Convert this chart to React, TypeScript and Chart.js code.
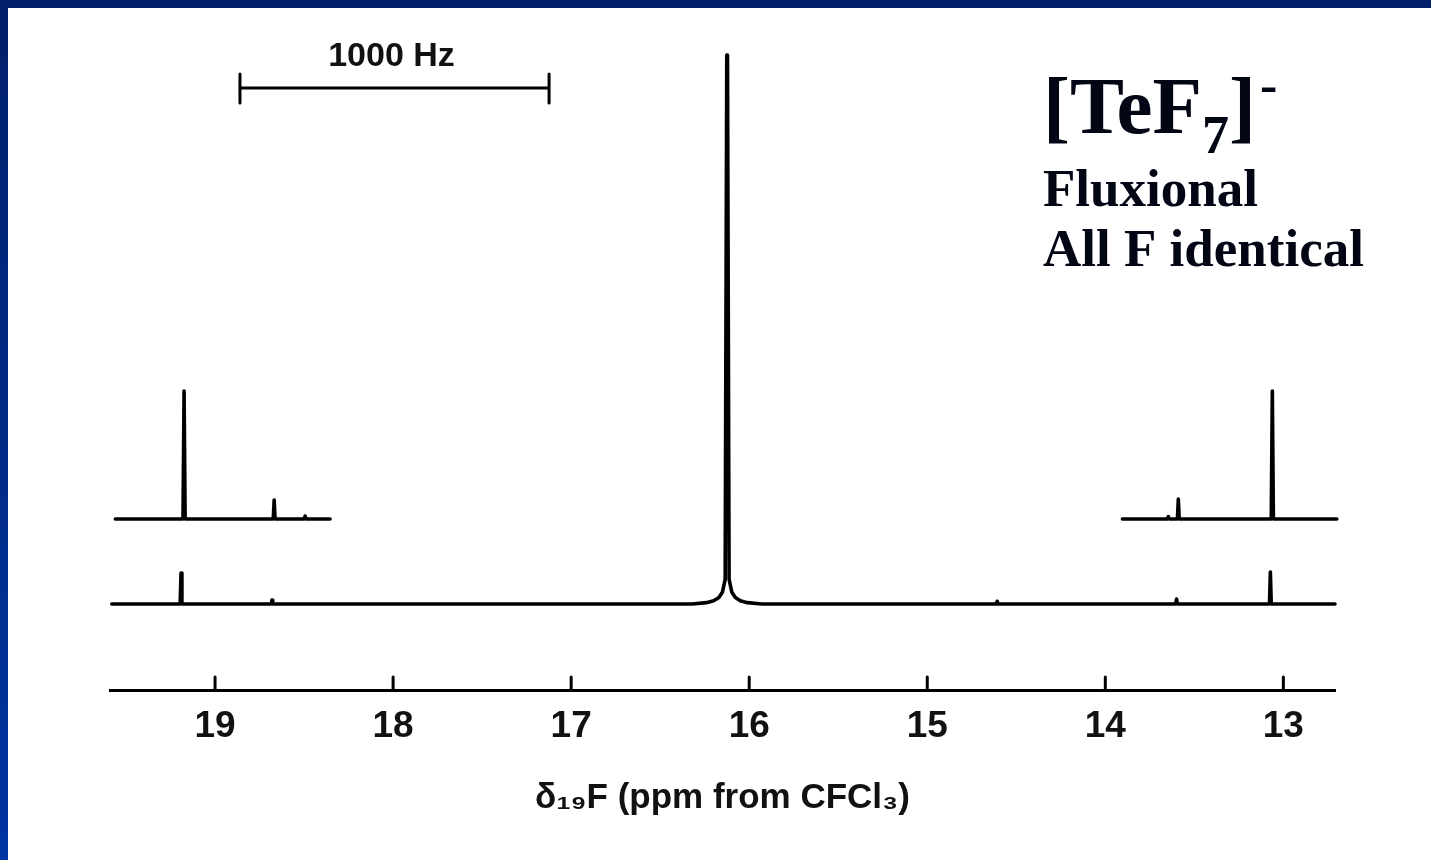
import { useEffect, useRef } from "react";
import { Chart, registerables } from "chart.js";

Chart.register(...registerables);

// ---- axis (ppm, reversed) ----
const X_MIN_PPM = 12.71;
const X_MAX_PPM = 19.59;
const TICK_PPM = [19, 18, 17, 16, 15, 14, 13];
const AXIS_TITLE = "δ₁₉F (ppm from CFCl₃)";

// ---- main trace (intensity: main line = 100) ----
const mainPpm = [
  19.58, 19.196, 19.191, 19.186, 18.684, 18.68, 18.676, 16.32, 16.24, 16.2, 16.17, 16.15, 16.135,
  16.126, 16.122, 16.113, 16.098, 16.078, 16.05, 16.01, 15.93, 14.612, 14.607, 14.602, 13.605, 13.6, 13.595,
  13.078, 13.073, 13.068, 12.71,
];
const mainInt = [
  0, 0, 5.65, 0, 0, 0.7, 0, 0, 0.25, 0.6, 1.2, 2.2, 4.5,
  100, 100, 4.5, 2.2, 1.2, 0.6, 0.25, 0, 0, 0.5, 0, 0, 0.9, 0,
  0, 5.83, 0, 0,
];

// ---- expanded insets (same intensity units, own vertical scale) ----
const leftInsetPpm = [19.56, 19.18, 19.174, 19.168, 18.673, 18.668, 18.663, 18.5, 18.494, 18.488, 18.354];
const leftInsetInt = [0, 0, 5.65, 0, 0, 0.84, 0, 0, 0.13, 0, 0];
const rightInsetPpm = [13.904, 13.652, 13.646, 13.64, 13.595, 13.59, 13.585, 13.068, 13.062, 13.056, 12.7];
const rightInsetInt = [0, 0, 0.1, 0, 0, 0.88, 0, 0, 5.65, 0, 0];

// ---- scale bar ----
const SCALE_BAR_FROM_PPM = 18.86;
const SCALE_BAR_TO_PPM = 17.124;
const SCALE_BAR_LEVEL = 94;
const SCALE_BAR_LABEL = "1000 Hz";

// ---- annotation ----
const FORMULA_PARTS = ["[TeF", "7", "]", "-"];
const NOTE_LINES = ["Fluxional", "All F identical"];

const toPoints = (xs: number[], ys: number[]) => xs.map((x, i) => ({ x, y: ys[i] }));

const SANS = "'Liberation Sans', Arial, sans-serif";
const SERIF = "'Liberation Serif', 'Times New Roman', serif";

const upTicksPlugin = {
  id: "upTicks",
  afterDraw(chart: any) {
    const xs = chart.scales.x;
    const ctx = chart.ctx;
    ctx.save();
    ctx.strokeStyle = "#000";
    ctx.lineWidth = 3;
    ctx.lineCap = "round";
    for (const v of TICK_PPM) {
      const px = xs.getPixelForValue(v);
      ctx.beginPath();
      ctx.moveTo(px, xs.top);
      ctx.lineTo(px, xs.top - 13);
      ctx.stroke();
    }
    ctx.restore();
  },
};

const scaleBarPlugin = {
  id: "scaleBar",
  afterDraw(chart: any) {
    const xs = chart.scales.x;
    const ys = chart.scales.y;
    const ctx = chart.ctx;
    const x1 = xs.getPixelForValue(SCALE_BAR_FROM_PPM);
    const x2 = xs.getPixelForValue(SCALE_BAR_TO_PPM);
    const y = ys.getPixelForValue(SCALE_BAR_LEVEL);
    ctx.save();
    ctx.strokeStyle = "#000";
    ctx.lineWidth = 3;
    ctx.lineCap = "round";
    ctx.beginPath();
    ctx.moveTo(x1, y);
    ctx.lineTo(x2, y);
    ctx.moveTo(x1, y - 14);
    ctx.lineTo(x1, y + 15);
    ctx.moveTo(x2, y - 14);
    ctx.lineTo(x2, y + 15);
    ctx.stroke();
    ctx.fillStyle = "#111";
    ctx.font = `bold 34px ${SANS}`;
    ctx.textAlign = "center";
    ctx.textBaseline = "alphabetic";
    ctx.fillText(SCALE_BAR_LABEL, (x1 + x2) / 2 - 3, y - 22);
    ctx.restore();
  },
};

const annotationPlugin = {
  id: "annotation",
  afterDraw(chart: any) {
    const ctx = chart.ctx;
    ctx.save();
    ctx.fillStyle = "#020614";
    ctx.textAlign = "left";
    ctx.textBaseline = "alphabetic";
    let x = 1035;
    ctx.font = `bold 81px ${SERIF}`;
    ctx.fillText(FORMULA_PARTS[0], x, 125);
    x += ctx.measureText(FORMULA_PARTS[0]).width;
    ctx.font = `bold 54px ${SERIF}`;
    ctx.fillText(FORMULA_PARTS[1], x, 145);
    x += ctx.measureText(FORMULA_PARTS[1]).width;
    ctx.font = `bold 81px ${SERIF}`;
    ctx.fillText(FORMULA_PARTS[2], x, 125);
    x += ctx.measureText(FORMULA_PARTS[2]).width;
    ctx.font = `bold 52px ${SERIF}`;
    ctx.fillText(FORMULA_PARTS[3], x + 4, 94);
    ctx.font = `bold 53px ${SERIF}`;
    ctx.fillText(NOTE_LINES[0], 1035, 198);
    ctx.fillText(NOTE_LINES[1], 1035, 258);
    ctx.restore();
  },
};

export default function App() {
  const ref = useRef<HTMLCanvasElement | null>(null);

  useEffect(() => {
    if (!ref.current) return;
    const line = { borderColor: "#000", borderWidth: 3.6, pointRadius: 0, tension: 0, clip: false as any, borderCapStyle: "round" as const, borderJoinStyle: "round" as const };
    const chart = new Chart(ref.current, {
      type: "line",
      data: {
        datasets: [
          { ...line, data: toPoints(mainPpm, mainInt), yAxisID: "y" },
          { ...line, data: toPoints(leftInsetPpm, leftInsetInt), yAxisID: "yInset" },
          { ...line, data: toPoints(rightInsetPpm, rightInsetInt), yAxisID: "yInset" },
        ],
      },
      options: {
        animation: false,
        responsive: false,
        maintainAspectRatio: false,
        devicePixelRatio: 1,
        layout: { padding: { top: 19.5, left: 102, right: 96, bottom: 40.6 } },
        plugins: { legend: { display: false }, tooltip: { enabled: false }, title: { display: false } },
        events: [],
        scales: {
          x: {
            type: "linear",
            reverse: true,
            min: X_MIN_PPM,
            max: X_MAX_PPM,
            afterBuildTicks: (s: any) => {
              s.ticks = TICK_PPM.map((v) => ({ value: v }));
            },
            grid: { display: false, drawTicks: false },
            border: { display: true, color: "#000", width: 3 },
            ticks: {
              color: "#111",
              padding: 15,
              maxRotation: 0,
              autoSkip: false,
              font: { family: SANS, size: 37, weight: "bold" },
              callback: (v: any) => String(v),
            },
            title: {
              display: true,
              text: AXIS_TITLE,
              color: "#111",
              padding: { top: 13, bottom: 0 },
              font: { family: SANS, size: 35, weight: "bold" },
            },
          },
          y: { type: "linear", display: false, min: -15.66, max: 105 },
          yInset: { type: "linear", display: false, min: -7.55, max: 21.7 },
        },
      },
      plugins: [upTicksPlugin, scaleBarPlugin, annotationPlugin],
    });
    return () => chart.destroy();
  }, []);

  return (
    <div
      style={{
        position: "fixed",
        left: 0,
        top: 0,
        width: "100vw",
        height: "100vh",
        background: "linear-gradient(to bottom, #02206a, #0034a2)",
        overflow: "hidden",
      }}
    >
      <canvas
        ref={ref}
        width={1423}
        height={852}
        style={{ position: "absolute", left: 8, top: 8, width: 1423, height: 852, background: "#fff", display: "block" }}
      />
    </div>
  );
}
